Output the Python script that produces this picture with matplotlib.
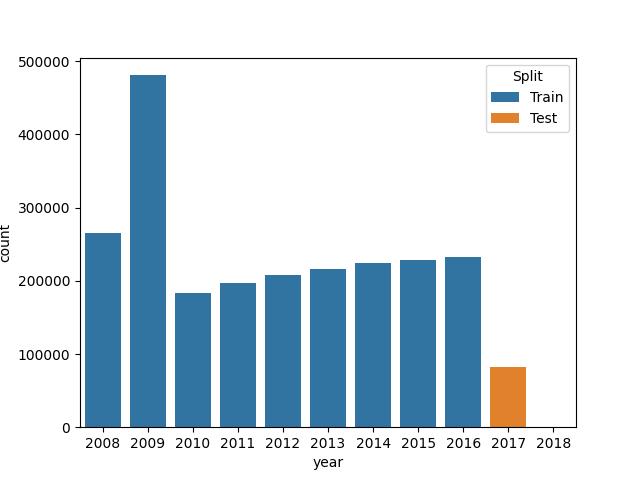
import numpy as np
import matplotlib
matplotlib.use("Agg")
import matplotlib.pyplot as plt
from matplotlib.patches import Patch

# contagem de linhas por ano, separadas em treino/teste
years = ["2008", "2009", "2010", "2011", "2012", "2013", "2014", "2015", "2016", "2017", "2018"]
counts = [265000, 481000, 183000, 197000, 208000, 216000, 224000, 228000, 232000, 82000, 150]
split = ["Train", "Train", "Train", "Train", "Train", "Train", "Train", "Train", "Train", "Test", "Test"]

cores = {"Train": "#3274a1", "Test": "#e1812c"}

fig, ax = plt.subplots(figsize=(6.4, 4.8), dpi=100)
x = np.arange(len(years))
ax.bar(x, counts, width=0.8, color=[cores[s] for s in split])

ax.set_xticks(x)
ax.set_xticklabels(years)
ax.set_xlim(-0.5, len(years) - 0.5)
ax.set_xlabel("year")
ax.set_ylabel("count")

handles = [Patch(facecolor=cores[k], label=k) for k in ["Train", "Test"]]
ax.legend(handles=handles, title="Split", loc="upper right")

plt.savefig("out.png")
